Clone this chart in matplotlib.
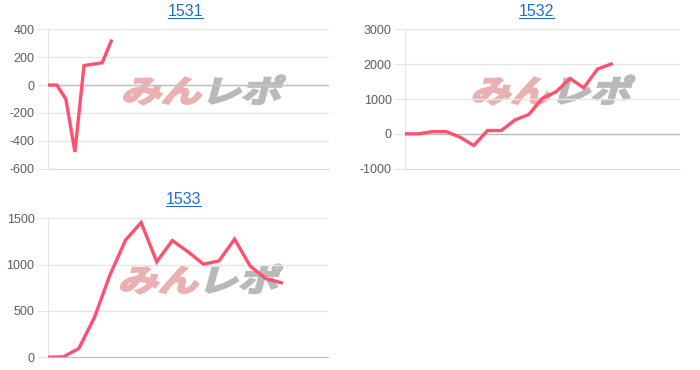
import matplotlib
matplotlib.use('Agg')
import matplotlib.pyplot as plt
import numpy as np
from matplotlib.textpath import TextPath
from matplotlib.font_manager import FontProperties
from matplotlib.patches import PathPatch
from matplotlib.transforms import Affine2D, IdentityTransform, Bbox
from matplotlib.lines import Line2D

# values
titles = ['1531', '1532', '1533']
values_1531 = [0, 0, -100, -480, 140, 150, 160, 315]
values_1532 = [0, 0, 65, 65, -95, -335, 95, 95, 400, 555, 1020, 1210, 1590, 1320, 1860, 2005]
values_1533 = [0, 5, 95, 430, 890, 1265, 1455, 1030, 1260, 1140, 1005, 1040, 1275, 985, 850, 805]
n_slots = [31, 20, 18]
yticks_1531 = [-600, -400, -200, 0, 200, 400]
yticks_1532 = [-1000, 0, 1000, 2000, 3000]
yticks_1533 = [0, 500, 1000, 1500]

W, H = 700, 370
LINE = '#ff5070'
GRID = '#e6e6e6'
ZERO = '#bfbfbf'
LINK = '#1a6fd6'

plt.rcParams['font.family'] = ['Liberation Sans', 'DejaVu Sans']


def px_box(left, top, right, bottom):
    return [left / W, 1 - bottom / H, (right - left) / W, (bottom - top) / H]


def watermark(ax, cx, cy):
    fp = FontProperties(family='Noto Sans CJK JP', weight='bold')
    p1 = TextPath((0, 0), 'みん', size=1, prop=fp)
    p2 = TextPath((2.0, 0), 'レポ', size=1, prop=fp)
    bb = Bbox.union([p1.get_extents(), p2.get_extents()])
    sx = 156 / bb.width
    sy = 29 / bb.height
    X, Y = ax.transAxes.transform((cx, cy))
    for p, c in ((p1, '#eab0b2'), (p2, '#b9b9b9')):
        t = (Affine2D().translate(-(bb.x0 + bb.x1) / 2, -(bb.y0 + bb.y1) / 2)
             .scale(sx, sy).skew_deg(15, 0).translate(X, Y))
        ax.add_patch(PathPatch(t.transform_path(p), transform=IdentityTransform(),
                               fc=c, ec=c, lw=1.6, zorder=0, clip_on=False))


fig = plt.figure(figsize=(W / 100, H / 100), dpi=100)

panels = [
    (values_1531, yticks_1531, px_box(47.7, 29.3, 329, 168.7), (0.556, 0.565), (185.5, 16)),
    (values_1532, yticks_1532, px_box(405, 29.3, 680, 168.7), (0.54, 0.565), (536.7, 16)),
    (values_1533, yticks_1533, px_box(47.7, 218.3, 328, 357.3), (0.547, 0.563), (183.3, 204.5)),
]

titles_txt = []
for i, (vals, yt, box, wm, tpos) in enumerate(panels):
    ax = fig.add_axes(box)
    ax.set_xlim(0, n_slots[i])
    ax.set_ylim(yt[0], yt[-1])
    ax.set_yticks(yt)
    ax.set_yticklabels([str(v) for v in yt])
    ax.set_xticks([])
    ax.yaxis.grid(True, color=GRID, lw=1, zorder=1)
    ax.set_axisbelow(True)
    for s in ('top', 'right'):
        ax.spines[s].set_visible(False)
    ax.spines['left'].set_color(GRID)
    ax.spines['bottom'].set_color(ZERO if yt[0] == 0 else '#dddddd')
    if yt[0] < 0:
        ax.axhline(0, color=ZERO, lw=1, zorder=1)
    ax.tick_params(axis='y', length=8, color=GRID, labelcolor='#5e5e5e', labelsize=9, pad=1.5)
    for tk, v in zip(ax.yaxis.get_major_ticks(), yt):
        if v == 0:
            tk.tick1line.set_color(ZERO)
    watermark(ax, *wm)
    ax.plot(range(len(vals)), vals, color=LINE, lw=2.4, solid_joinstyle='miter', zorder=3)

    t = fig.text(tpos[0] / W, 1 - tpos[1] / H, titles[i], color=LINK, fontsize=11.5,
                 ha='center', va='baseline')
    titles_txt.append(t)

fig.canvas.draw()
r = fig.canvas.get_renderer()
for t in titles_txt:
    bb = t.get_window_extent(r)
    x_base, y_base = t.get_transform().transform(t.get_position())
    yl = (y_base - 1.5) / H
    fig.add_artist(Line2D([bb.x0 / W, bb.x1 / W], [yl, yl], color=LINK, lw=0.8,
                          transform=fig.transFigure))

fig.savefig('out.png', dpi=100)
